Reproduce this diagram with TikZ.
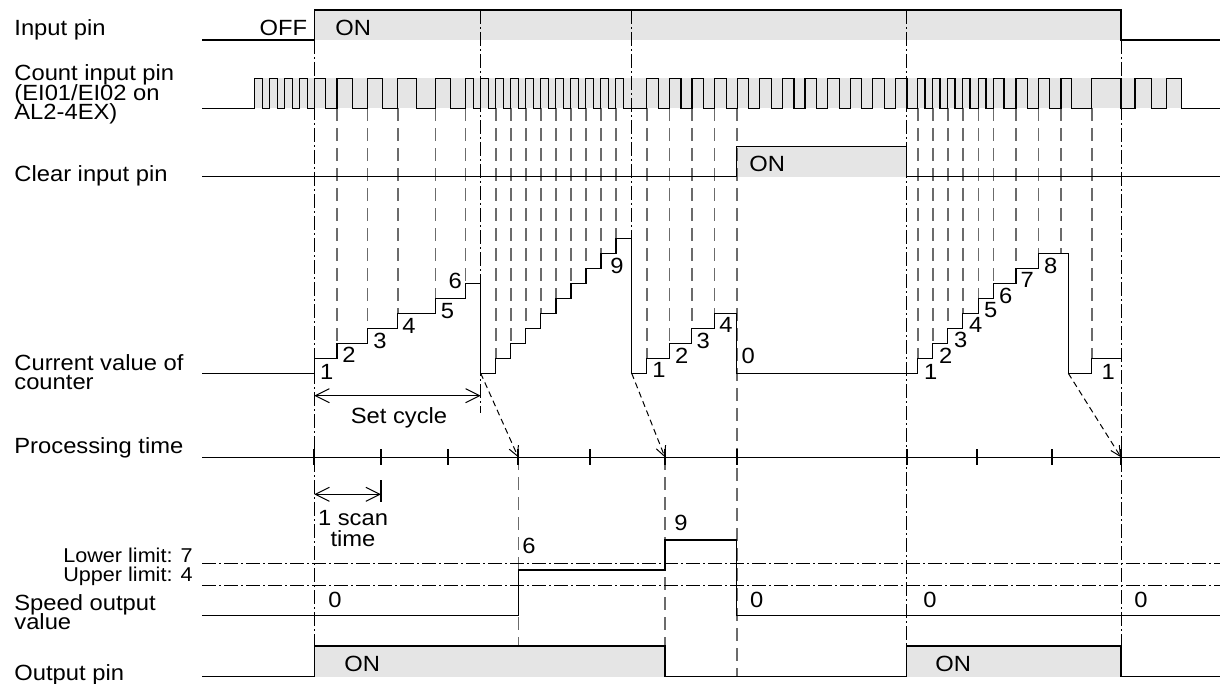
\documentclass[tikz,border=0pt]{standalone}
\usepackage{fontspec}
\setmainfont{Liberation Sans}[FakeStretch=1.08]
\usepackage{xcolor}
\usetikzlibrary{arrows.meta, positioning}
\definecolor{hifill}{gray}{0.9}
\definecolor{dashgray}{gray}{0.42}
\setlength{\lineskiplimit}{-20pt}

\begin{document}
\begin{tikzpicture}[
    x=0.5pt, y=-0.5pt,
    font=\fontsize{11}{9.6}\selectfont,
    sig/.style={line width=0.6pt},
    hi/.style={fill=hifill},
    cntdash/.style={draw=dashgray, line width=0.8pt, dash pattern=on 6.5pt off 3.5pt},
    chain/.style={line width=0.5pt, dash pattern=on 7pt off 1.5pt on 1pt off 1.5pt},
    lbl/.style={anchor=base west, align=left, inner sep=0pt},
    rlbl/.style={anchor=base east, inner sep=0pt},
    num/.style={inner sep=0pt},
    dimarr/.style={line width=0.5pt, {Straight Barb[length=7pt,width=7pt]}-{Straight Barb[length=7pt,width=7pt]}},
    lag/.style={line width=0.5pt, dash pattern=on 3pt off 2pt, -{Straight Barb[length=5pt,width=5pt]}},
    tickmark/.style={line width=1pt}
]
    \useasboundingbox (0,0) rectangle (1225,684);

    % GREY BANDS
    \fill[hi] (314.3,10) rectangle (1121,40);
    \fill[hi] (254.3,78.3) rectangle (1181.7,108.3);
    \fill[hi] (736.7,146.7) rectangle (906.7,176.7);
    \fill[hi] (314.3,646) rectangle (665,676.7);
    \fill[hi] (906.7,646) rectangle (1121,676.7);

    % COUNT EDGES: DASHED GUIDES
    \foreach \x/\n in {337/2, 367.3/3, 397.7/4, 435.3/5, 465.3/6,
        495.7/1, 510.7/2, 525.7/3, 540.7/4, 556/5, 571/6, 586/7, 601/8, 616/9,
        646.7/1, 669.3/2, 691.7/3, 714.3/4,
        917.7/1, 932.7/2, 947.7/3, 962.7/4, 978.3/5, 993.3/6, 1016/7, 1038.3/8, 1061/8, 1091.7/1}
        \draw[cntdash] (\x,108.3) -- (\x,{373.3-15*\n});
    \draw[cntdash] (736.7,108.3) -- (736.7,676.7);
    \draw[cntdash] (518.3,457.3) -- (518.3,646);
    \draw[cntdash] (665,457.3) -- (665,676.7);

    % CHAIN LINES
    \draw[chain] (314.3,40) -- (314.3,646);
    \draw[chain] (480.7,10) -- (480.7,413);
    \draw[chain] (631.7,10) -- (631.7,373.3);
    \draw[chain] (906.7,10) -- (906.7,646);
    \draw[chain] (1121,40) -- (1121,646);
    \draw[chain] (202,563.3) -- (1220,563.3);
    \draw[chain] (202,585.7) -- (1220,585.7);

    % INPUT PIN
    \draw[sig] (202,40) -| (314.3,10) -| (1121,40) -- (1220,40);
    \node (InOff) [rlbl] at (307.5,36) {OFF};
    \node (InOn) [lbl] at (335,36) {ON};

    % COUNT INPUT PIN
    \draw[sig] (202,108.3)
        foreach \r/\f in {254.3/262.3, 269.3/277.3, 284.3/292.3, 299.3/307.3, 314.3/325.7,
            337/352.3, 367.3/382.3, 397.7/416.7, 435.3/450.7, 465.3/473.3}
            { -- (\r,108.3) |- (\f,78.3) -- (\f,108.3) }
        foreach \k in {0,...,9}
            { -- ({480.7+15*\k},108.3) |- ({488.4+15*\k},78.3) -- ({488.4+15*\k},108.3) }
        foreach \k in {0,...,11}
            { -- ({646.7+22.6*\k},108.3) |- ({658.3+22.6*\k},78.3) -- ({658.3+22.6*\k},108.3) }
        foreach \r/\f in {917.3/925, 932.7/940, 947.7/955, 962.7/970, 978.3/986, 993.3/1004,
            1016/1027.3, 1038.3/1049.3, 1061/1071.7, 1091.7/1121, 1135/1151.7, 1166.7/1181.7}
            { -- (\r,108.3) |- (\f,78.3) -- (\f,108.3) }
        -- (1220,108.3);

    % CLEAR INPUT PIN
    \draw[sig] (202,176.7) -| (736.7,146.7) -| (906.7,176.7) -- (1220,176.7);
    \node (ClrOn) [lbl] at (749,172) {ON};

    % CURRENT VALUE OF COUNTER
    \draw[sig] (202,373.3)
        foreach \x/\n in {314.3/1, 337/2, 367.3/3, 397.7/4, 435.3/5, 465.3/6, 480.7/0,
            495.7/1, 510.7/2, 525.7/3, 540.7/4, 556/5, 571/6, 586/7, 601/8, 616/9, 631.7/0,
            646.7/1, 669.3/2, 691.7/3, 714.3/4, 736.7/0,
            917.7/1, 932.7/2, 947.7/3, 962.7/4, 978.3/5, 993.3/6, 1016/7, 1038.3/8, 1068.3/0, 1091.7/1}
            { -| (\x,{373.3-15*\n}) }
        -- (1121,358.3);
    \foreach \x/\y/\t [count=\i] in {326.7/371.7/1, 349/355/2, 380/341/3, 409/326/4, 447.5/311/5, 455.3/281/6,
        617/266/9,
        659/370/1, 681.7/355.7/2, 703.3/340.7/3, 726/325/4, 748.3/355.7/0,
        930.7/371.7/1, 945.7/355.7/2, 960.7/340/3, 975.7/325/4, 990.7/310/5, 1005.7/296/6,
        1027.3/280/7, 1050.7/266/8, 1108.3/371.7/1}
        \node (cv\i) [num] at (\x,\y) {\t};

    % SET CYCLE
    \coordinate (SetA) at (314.3,395.7);
    \coordinate (SetB) at (480.7,395.7);
    \draw[dimarr] (SetA) -- (SetB);
    \node (SetLbl) [anchor=base, inner sep=0pt] at (399,423) {Set cycle};

    % PROCESSING TIME
    \draw[sig] (202,457.3) -- (1220,457.3);
    \foreach \x in {314.3, 381, 447.7, 518.3, 590, 665, 736.7, 906.7, 976.7, 1051.7, 1121}
        \draw[tickmark] (\x,449) -- (\x,465);
    \coordinate (Drop1) at (480.7,373.3);
    \coordinate (Drop2) at (631.7,373.3);
    \coordinate (Drop3) at (1068.3,373.3);
    \coordinate (Tick1) at (518.3,457.3);
    \coordinate (Tick2) at (665,457.3);
    \coordinate (Tick3) at (1121,457.3);
    \draw[lag] (Drop1) -- (Tick1);
    \draw[lag] (Drop2) -- (Tick2);
    \draw[lag] (Drop3) -- (Tick3);

    % 1 SCAN TIME
    \coordinate (ScanA) at (314.3,494.3);
    \coordinate (ScanB) at (381,494.3);
    \draw[dimarr] (ScanA) -- (ScanB);
    \draw[sig] (381,480) -- (381,502);
    \node (ScanLbl) [anchor=base, align=center, inner sep=0pt, font=\fontsize{11}{10.8}\selectfont] at (353,546.7) {1 scan\\time};

    % SPEED OUTPUT VALUE
    \draw[sig] (202,615.7) -| (518.3,570) -| (665,540) -| (736.7,615.7) -- (1220,615.7);
    \foreach \x/\y/\t [count=\i] in {335/600/0, 529/546/6, 681/523/9, 756.7/600/0, 930/600/0, 1141/600/0}
        \node (sv\i) [num] at (\x,\y) {\t};

    % OUTPUT PIN
    \draw[sig] (202,676.7) -| (314.3,646) -| (665,676.7) -| (906.7,646) -| (1121,676.7) -- (1220,676.7);
    \node (OutOn1) [lbl] at (344,671) {ON};
    \node (OutOn2) [lbl] at (935,671) {ON};

    % LEFT LABELS
    \node (LblIn) [lbl] at (14,36) {Input pin};
    \node (LblCnt) [lbl] at (14,119.4) {Count input pin\\(EI01/EI02 on\\AL2-4EX)};
    \node (LblClr) [lbl] at (14,182) {Clear input pin};
    \node (LblCur) [lbl] at (14,389.2) {Current value of\\counter};
    \node (LblProc) [lbl] at (14,453.3) {Processing time};
    \node (LblLow) [rlbl, font=\fontsize{10}{8}\selectfont] at (193,562.5) {Lower limit: 7};
    \node (LblUp) [rlbl, font=\fontsize{10}{8}\selectfont] at (193,581) {Upper limit: 4};
    \node (LblSpd) [lbl] at (14,629.7) {Speed output\\value};
    \node (LblOut) [lbl] at (14,680) {Output pin};
\end{tikzpicture}
\end{document}
